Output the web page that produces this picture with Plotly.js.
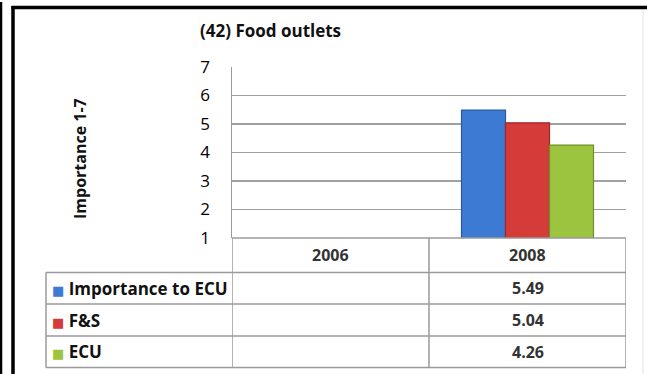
<!DOCTYPE html>
<html>
<head>
<meta charset="utf-8">
<script src="https://cdn.plot.ly/plotly-3.0.1.min.js"></script>
<style>html,body{margin:0;padding:0;background:#fff;}#chart{width:647px;height:374px;}</style>
</head>
<body>
<div id="chart"></div>
<script>
// ---- data ----
const categories = ['2006', '2008'];
const seriesNames = ['Importance to ECU', 'F&S', 'ECU'];
const importanceToECU = [null, 5.49];
const fAndS = [null, 5.04];
const ecu = [null, 4.26];
const yTickValues = [1, 2, 3, 4, 5, 6, 7];
const chartTitle = '(42) Food outlets';
const yTitle = 'Importance 1-7';

// ---- styles ----
const colors = ['#3d7ad4', '#d43b39', '#9cc43e'];
const edges = ['#2a5a9e', '#9e2826', '#6f8f27'];
const W = 647, H = 374;
const M = {l: 232, r: 21, t: 67, b: 136};
const plotH = H - M.t - M.b;
const plotW = W - M.l - M.r;
const py = p => (H - M.b - p) / plotH;   // pixel row -> paper y
const px = p => (p - M.l) / plotW;       // pixel col -> paper x
const FONT = '"Open Sans", "DejaVu Sans", sans-serif';
const gridCol = '#a0a0a0';
const tableCol = '#9a9a9a';

const seriesValues = [importanceToECU, fAndS, ecu];
const traces = seriesValues.map((vals, i) => ({
  type: 'bar', x: categories, y: vals, name: seriesNames[i],
  marker: {color: colors[i], line: {color: edges[i], width: 1.2}},
  hoverinfo: 'skip'
}));

// table geometry (pixels)
const rowLines = [H - M.b, 272.5, 304, 336, 367.5];
const tableLeft = 46;
const shapes = [];
shapes.push({type: 'line', xref: 'x', yref: 'paper', x0: -0.5, x1: 1.5, y0: py(rowLines[0]), y1: py(rowLines[0]), line: {color: tableCol, width: 1.5}});
for (let k = 1; k < rowLines.length; k++) {
  shapes.push({type: 'line', xref: 'paper', yref: 'paper', x0: px(tableLeft), x1: 1, y0: py(rowLines[k]), y1: py(rowLines[k]), line: {color: tableCol, width: 1.5}});
}
[-0.5, 0.5, 1.5].forEach(xv => shapes.push({type: 'line', xref: 'x', yref: 'paper', x0: xv, x1: xv, y0: py(rowLines[0]), y1: py(rowLines[4]), line: {color: tableCol, width: 1.5}}));
shapes.push({type: 'line', xref: 'paper', yref: 'paper', x0: px(tableLeft), x1: px(tableLeft), y0: py(rowLines[1]), y1: py(rowLines[4]), line: {color: tableCol, width: 1.5}});
// frame
shapes.push({type: 'line', xref: 'paper', yref: 'paper', x0: px(1), x1: px(1), y0: py(2), y1: py(374), line: {color: '#000', width: 2.5}});
shapes.push({type: 'line', xref: 'paper', yref: 'paper', x0: px(13), x1: px(13), y0: py(6), y1: py(374), line: {color: '#000', width: 3.5}});
shapes.push({type: 'line', xref: 'paper', yref: 'paper', x0: px(11.5), x1: px(647), y0: py(7.5), y1: py(7.5), line: {color: '#000', width: 3.5}});
shapes.push({type: 'line', xref: 'paper', yref: 'paper', x0: px(643), x1: px(643), y0: py(10), y1: py(374), line: {color: '#e4e4e4', width: 1}});

const annotations = [];
// header row (category index positions on the category axis)
categories.forEach((c, j) => annotations.push({xref: 'x', yref: 'paper', x: j, y: py((rowLines[0] + rowLines[1]) / 2), text: '<b>' + c + '</b>', showarrow: false, font: {family: FONT, size: 16, color: '#333'}, xanchor: 'center', yanchor: 'middle'}));
seriesNames.forEach((n, i) => {
  const yc = py((rowLines[i + 1] + rowLines[i + 2]) / 2);
  annotations.push({xref: 'paper', yref: 'paper', x: px(50), y: yc, xanchor: 'left', yanchor: 'middle', showarrow: false,
    text: '<span style="color:' + colors[i] + ';font-size:13px">■</span> <b>' + n.replace('&', '&amp;') + '</b>',
    font: {family: FONT, size: 17, color: '#111'}});
  categories.forEach((c, j) => {
    const v = seriesValues[i][j];
    if (v !== null) annotations.push({xref: 'x', yref: 'paper', x: j, y: yc, text: '<b>' + v.toFixed(2) + '</b>', showarrow: false, xanchor: 'center', yanchor: 'middle', font: {family: FONT, size: 16, color: '#333'}});
  });
});
annotations.push({xref: 'paper', yref: 'paper', x: px(80), y: py(159), text: '<b>' + yTitle + '</b>', textangle: -90, showarrow: false, xanchor: 'center', yanchor: 'middle', font: {family: FONT, size: 16, color: '#111'}});

const layout = {
  width: W, height: H, margin: M,
  paper_bgcolor: '#fff', plot_bgcolor: '#fff',
  showlegend: false,
  barmode: 'group', bargap: 0.33, bargroupgap: 0,
  title: {text: '<b>' + chartTitle + '</b>', xref: 'container', yref: 'container', x: 200 / W, xanchor: 'left', y: 1 - 31 / H, yanchor: 'middle', font: {family: FONT, size: 17, color: '#111'}},
  xaxis: {type: 'category', categoryarray: categories, range: [-0.5, 1.5], showticklabels: false, showgrid: false, zeroline: false, showline: false, ticks: ''},
  yaxis: {range: [1, 7], tickvals: yTickValues, showgrid: true, gridcolor: gridCol, gridwidth: 1.5, zeroline: false,
    showline: true, linecolor: tableCol, linewidth: 1.5, ticks: 'outside', ticklen: 17, tickcolor: 'rgba(0,0,0,0)',
    tickfont: {family: FONT, size: 17, color: '#000'}},
  shapes: shapes, annotations: annotations
};
Plotly.newPlot('chart', traces, layout, {staticPlot: true, displayModeBar: false});
</script>
</body>
</html>
